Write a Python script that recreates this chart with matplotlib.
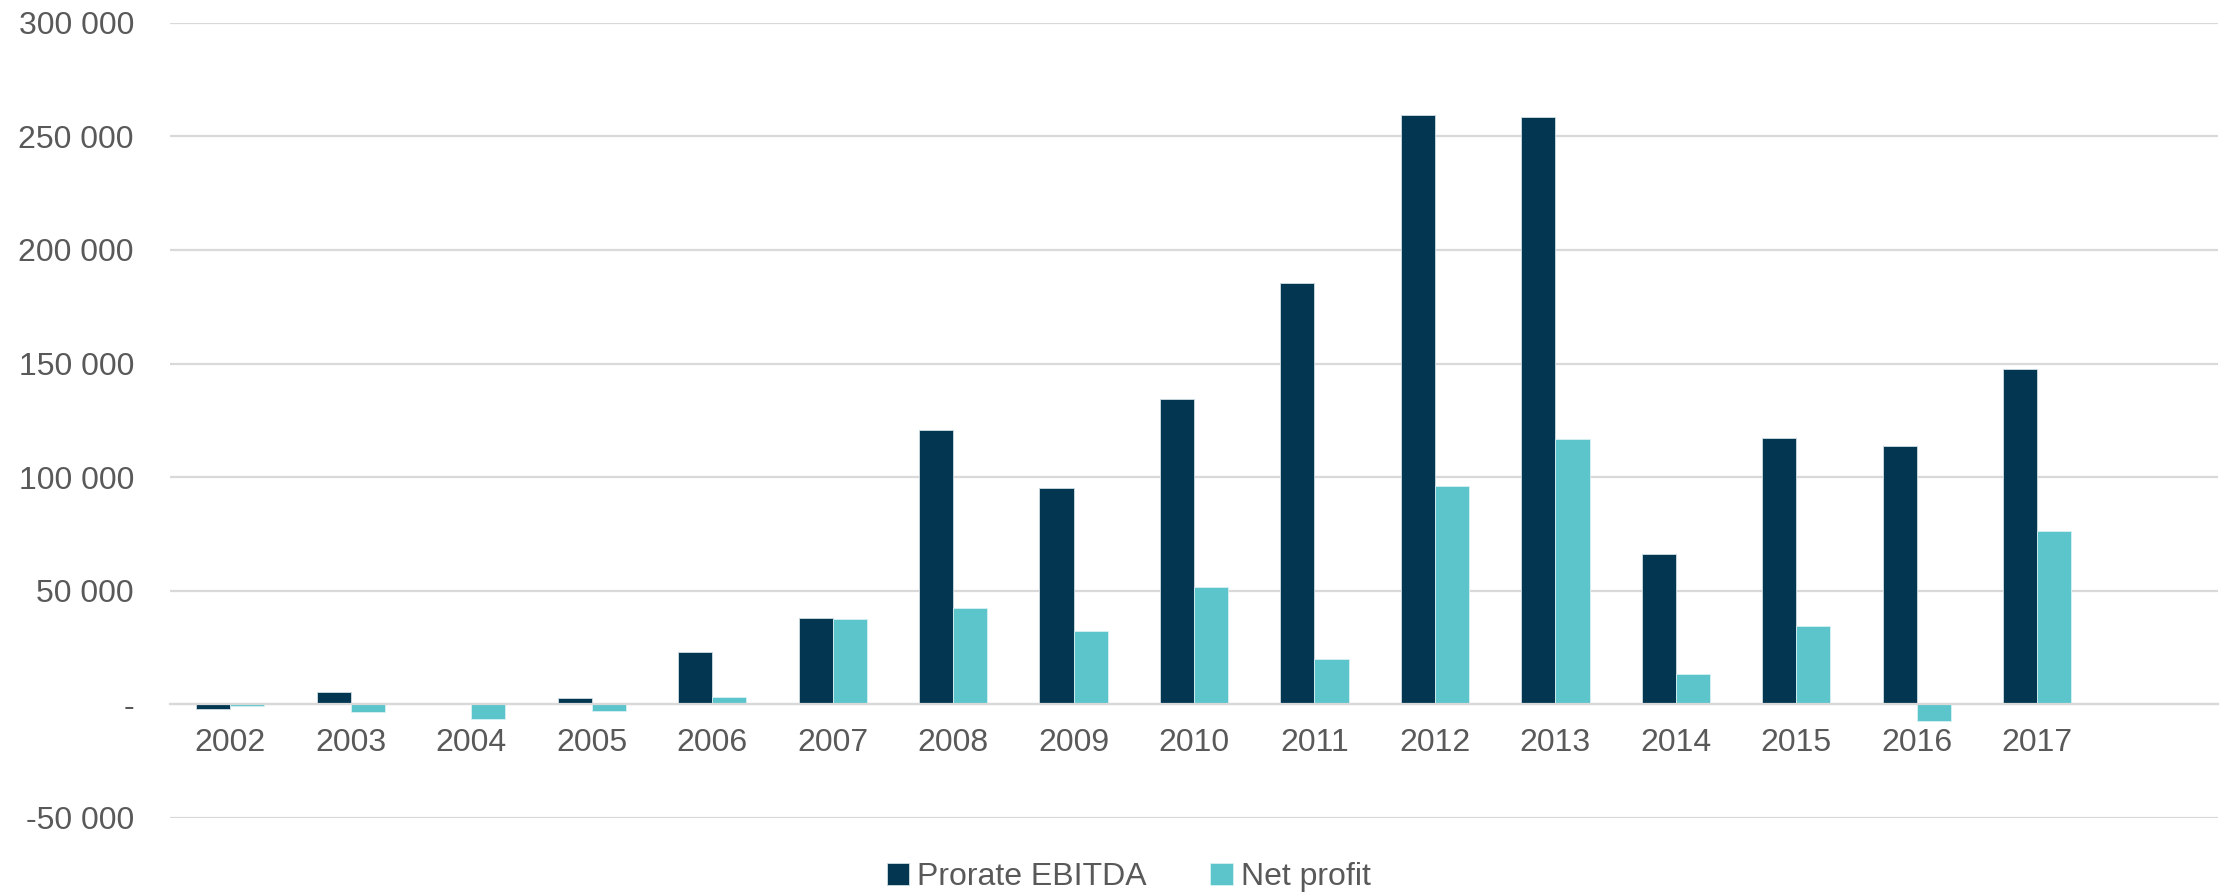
import numpy as np
import matplotlib
matplotlib.use("Agg")
import matplotlib.pyplot as plt
from matplotlib.ticker import FuncFormatter

plt.rcParams['font.family'] = ['Liberation Sans', 'DejaVu Sans']

# 数据
years = ['2002', '2003', '2004', '2005', '2006', '2007', '2008', '2009',
         '2010', '2011', '2012', '2013', '2014', '2015', '2016', '2017']
ebitda = [-2000, 5300, 600, 2800, 23000, 37800, 120800, 95300,
          134300, 185500, 259300, 258400, 66300, 117200, 113700, 147500]
net_profit = [-500, -3400, -6300, -3000, 3200, 37400, 42400, 32300,
              51600, 19900, 95900, 116700, 13200, 34700, -7300, 76300]
y_ticks = [-50000, 0, 50000, 100000, 150000, 200000, 250000, 300000]

C_DARK = '#023651'
C_TEAL = '#5BC5CB'
C_GRID = '#D9D9D9'
C_TEXT = '#595959'

fig = plt.figure(figsize=(22.26, 8.93), dpi=100)
ax = fig.add_axes([0.0764, 0.084, 0.9200, 0.8906])

x = np.arange(len(years))
w = 0.283
ax.bar(x - w / 2, ebitda, w, color=C_DARK, edgecolor='#d0dde3', linewidth=0.6,
       label='Prorate EBITDA', zorder=3)
ax.bar(x + w / 2, net_profit, w, color=C_TEAL, edgecolor='#d8f0f2', linewidth=0.6,
       label='Net profit', zorder=3)

# 多留一个空的分类位置
ax.set_xlim(-0.5, len(years) + 0.5)
ax.set_ylim(-50000, 300000)
ax.set_yticks(y_ticks)


def fmt(v, pos):
    if v == 0:
        return '-'
    s = f"{abs(int(v)):,}".replace(',', ' ')
    return ('-' if v < 0 else '') + s


ax.yaxis.set_major_formatter(FuncFormatter(fmt))
ax.set_xticks(x)
ax.set_xticklabels(years)

for s in ['top', 'right', 'left']:
    ax.spines[s].set_visible(False)
ax.spines['bottom'].set_position(('data', 0))
ax.spines['bottom'].set_color(C_GRID)
ax.spines['bottom'].set_linewidth(1.6)
ax.spines['bottom'].set_zorder(4)

ax.yaxis.grid(True, color=C_GRID, linewidth=1.6, zorder=0)
ax.set_axisbelow(True)
ax.tick_params(axis='both', length=0, labelsize=23, colors=C_TEXT)
ax.tick_params(axis='y', pad=26)
ax.tick_params(axis='x', pad=17)

fig.legend(loc='center', bbox_to_anchor=(0.507, 0.018), ncol=2, frameon=False,
           fontsize=23, labelcolor=C_TEXT, handlelength=0.7, handleheight=0.7,
           handletextpad=0.25, columnspacing=2.0)

fig.savefig('out.png', dpi=100)
